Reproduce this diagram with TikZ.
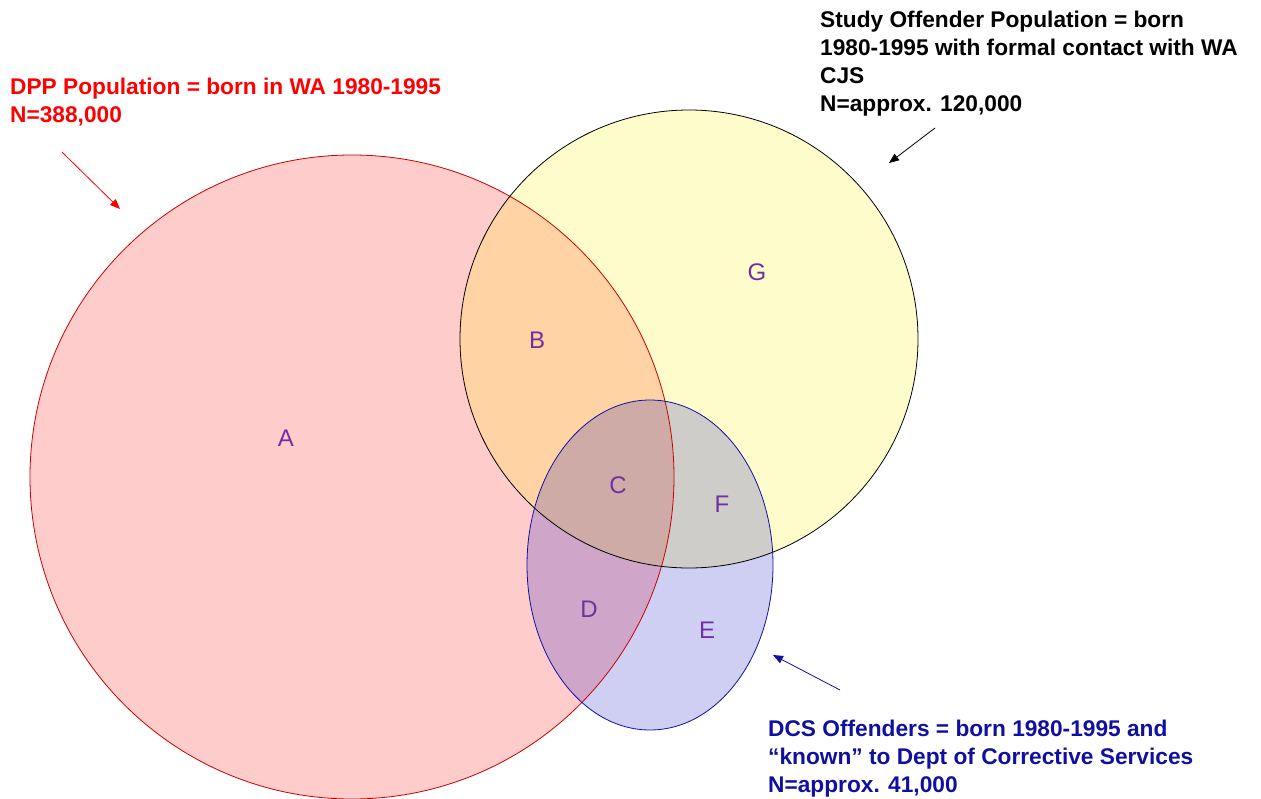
\documentclass[tikz,border=0pt]{standalone}
\usepackage{fontspec}
\setmainfont{Liberation Sans}
\usepackage{xcolor}
\usetikzlibrary{arrows.meta}

\definecolor{dppred}{RGB}{255,0,0}
\definecolor{dppline}{RGB}{200,0,0}
\definecolor{dcsblue}{RGB}{16,16,160}
\definecolor{dcsfill}{RGB}{0,0,190}
\definecolor{regionpurple}{RGB}{112,48,160}

\begin{document}
\begin{tikzpicture}[x=1pt, y=-1pt,
    region/.style={text=regionpurple, font=\fontsize{24}{28}\selectfont},
    poplabel/.style={anchor=base west, align=left, inner sep=0pt,
      font=\fontsize{22.7}{28}\selectfont\bfseries},
    pointer/.style={-{Triangle[length=10pt,width=8pt]}, line width=0.8pt}]
    \useasboundingbox (0,0) rectangle (1261,798);

    % Fills
    \fill[dppred, fill opacity=0.2] (352,477) circle (322);
    \fill[yellow, fill opacity=0.2] (689,339) circle (229);
    \fill[dcsfill, fill opacity=0.19] (650,565) ellipse (123 and 165);

    % Outlines
    \draw[dppline, line width=0.8pt] (352,477) circle (322);
    \draw[black, line width=0.8pt] (689,339) circle (229);
    \draw[dcsblue, line width=0.8pt] (650,565) ellipse (123 and 165);

    % Regions
    \node[region] (regA) at (286,438) {A};
    \node[region] (regB) at (537,340) {B};
    \node[region] (regC) at (618,485) {C};
    \node[region] (regD) at (589,609) {D};
    \node[region] (regE) at (707,630) {E};
    \node[region] (regF) at (722,504) {F};
    \node[region] (regG) at (757,272) {G};

    % Labels (base = last line)
    \node[poplabel, text=dppred] (dppLabel) at (10,122)
      {DPP Population = born in WA 1980-1995\\N=388,000};
    \node[poplabel, text=black] (studyLabel) at (820,111)
      {Study Offender Population = born\\1980-1995 with formal contact with WA\\CJS\\N=approx. 120,000};
    \node[poplabel, text=dcsblue] (dcsLabel) at (768,792)
      {DCS Offenders = born 1980-1995 and\\“known” to Dept of Corrective Services\\N=approx. 41,000};

    % Pointers
    \coordinate (dppTail) at (62,152);
    \coordinate (dppHead) at (120,209);
    \coordinate (studyTail) at (935,128);
    \coordinate (studyHead) at (889,163);
    \coordinate (dcsTail) at (840,690);
    \coordinate (dcsHead) at (773,655);
    \draw[pointer, dppred] (dppTail) -- (dppHead);
    \draw[pointer, black] (studyTail) -- (studyHead);
    \draw[pointer, dcsblue] (dcsTail) -- (dcsHead);
\end{tikzpicture}
\end{document}
